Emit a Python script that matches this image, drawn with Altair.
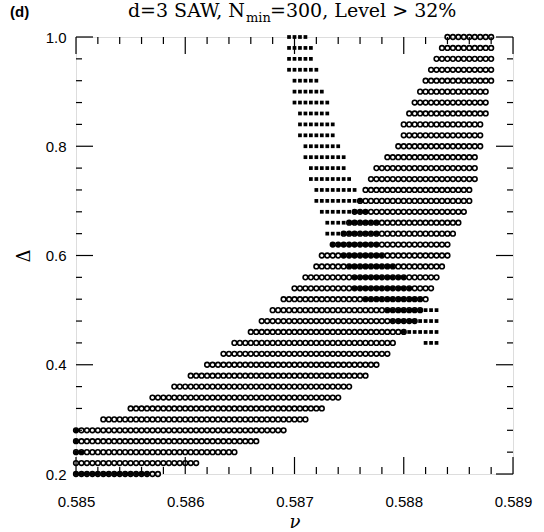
import altair as alt
import pandas as pd

# ---- data ----
NU0 = 0.585
NU_STEP = 0.00005  # grid spacing of the scanned nu values

delta_rows = [0.20, 0.22, 0.24, 0.26, 0.28, 0.30, 0.32, 0.34, 0.36, 0.38,
              0.40, 0.42, 0.44, 0.46, 0.48, 0.50, 0.52, 0.54, 0.56, 0.58,
              0.60, 0.62, 0.64, 0.66, 0.68, 0.70, 0.72, 0.74, 0.76, 0.78,
              0.80, 0.82, 0.84, 0.86, 0.88, 0.90, 0.92, 0.94, 0.96, 0.98, 1.00]

# open symbols: first and last nu of each row (grid column index)
circ_col_start = [0, 0, 0, 0, 0, 5, 10, 14, 18, 21,
                  24, 27, 29, 32, 34, 36, 38, 40, 42, 44,
                  45, 47, 49, 50, 51, 52, 53, 54, 55, 57,
                  59, 60, 60, 61, 62, 63, 64, 65, 66, 67, 68]
circ_col_end = [15, 22, 29, 33, 38, 42, 45, 48, 50, 53,
                55, 57, 58, 60, 62, 63, 64, 65, 66, 67,
                68, 68, 69, 70, 71, 72, 72, 73, 73, 73,
                74, 74, 74, 75, 75, 75, 76, 76, 76, 76, 76]

# filled symbols: row, first and last grid column
sq_delta = [0.20, 0.24, 0.26, 0.28,
            0.44, 0.46, 0.48, 0.50, 0.52, 0.54, 0.56, 0.58, 0.60, 0.62,
            0.64, 0.66, 0.68, 0.70, 0.72, 0.74, 0.76, 0.78, 0.80, 0.82,
            0.84, 0.86, 0.88, 0.90, 0.92, 0.94, 0.96, 0.98, 1.00]
sq_col_start = [0, 0, 0, 0,
                64, 60, 58, 57, 53, 51, 51, 50, 49, 47,
                46, 46, 45, 44, 44, 43, 43, 42, 42, 41,
                41, 41, 40, 40, 40, 39, 39, 39, 39]
sq_col_end = [13, 1, 0, 0,
              66, 66, 66, 66, 63, 61, 60, 58, 56, 55,
              55, 55, 53, 52, 51, 50, 49, 49, 48, 47,
              47, 46, 46, 45, 44, 44, 43, 43, 42]

x_major = [0.585, 0.586, 0.587, 0.588, 0.589]
x_minor = [0.5852, 0.5854, 0.5856, 0.5858, 0.5862, 0.5864, 0.5866, 0.5868,
           0.5872, 0.5874, 0.5876, 0.5878, 0.5882, 0.5884, 0.5886, 0.5888]
y_major = [0.2, 0.4, 0.6, 0.8, 1.0]
y_minor = [0.24, 0.28, 0.32, 0.36, 0.44, 0.48, 0.52, 0.56,
           0.64, 0.68, 0.72, 0.76, 0.84, 0.88, 0.92, 0.96]

# ---- tables ----
circ_rows = []
for d, a, b in zip(delta_rows, circ_col_start, circ_col_end):
    for k in range(a, b + 1):
        circ_rows.append({"nu": round(NU0 + k * NU_STEP, 6), "delta": d})
sq_rows = []
for d, a, b in zip(sq_delta, sq_col_start, sq_col_end):
    for k in range(a, b + 1):
        sq_rows.append({"nu": round(NU0 + k * NU_STEP, 6), "delta": d})

circ_df = pd.DataFrame(circ_rows)
sq_df = pd.DataFrame(sq_rows)

W, H = 437, 437
xs = alt.Scale(domain=[0.585, 0.589], nice=False, zero=False)
ys = alt.Scale(domain=[0.2, 1.0], nice=False, zero=False)

xaxis = alt.Axis(values=x_major, format=".3f", ticks=False, domain=False, grid=False,
                 labelFont="Liberation Sans", labelFontSize=15, labelColor="black",
                 labelPadding=20, title="ν", titleFont="DejaVu Serif",
                 titleFontStyle="italic", titleFontWeight="normal", titleFontSize=18,
                 titlePadding=4, titleColor="black", labelFlush=False)
yaxis = alt.Axis(values=y_major, format=".1f", ticks=False, domain=False, grid=False,
                 labelFont="Liberation Sans", labelFontSize=15, labelColor="black",
                 labelPadding=10, title="Δ", titleFont="DejaVu Serif",
                 titleFontWeight="normal", titleFontSize=18, titlePadding=12,
                 titleColor="black", labelFlush=False)

circles = alt.Chart(circ_df).mark_point(
    shape="circle", filled=False, color="black", size=22, strokeWidth=1.6, opacity=1
).encode(
    x=alt.X("nu:Q", scale=xs, axis=xaxis),
    y=alt.Y("delta:Q", scale=ys, axis=yaxis),
)
squares = alt.Chart(sq_df).mark_square(color="black", size=14, opacity=1).encode(
    x=alt.X("nu:Q", scale=xs, axis=xaxis),
    y=alt.Y("delta:Q", scale=ys, axis=yaxis),
)

def xticks(vals, length):
    df = pd.DataFrame({"nu": vals})
    base = alt.Chart(df).mark_rule(color="black", strokeWidth=1.2)
    bot = base.encode(x=alt.X("nu:Q", scale=xs, axis=xaxis), y=alt.value(H), y2=alt.value(H - length))
    top = base.encode(x=alt.X("nu:Q", scale=xs, axis=xaxis), y=alt.value(0), y2=alt.value(length))
    return bot + top

def yticks(vals, length):
    df = pd.DataFrame({"delta": vals})
    base = alt.Chart(df).mark_rule(color="black", strokeWidth=1.2)
    left = base.encode(y=alt.Y("delta:Q", scale=ys, axis=yaxis), x=alt.value(0), x2=alt.value(length))
    right = base.encode(y=alt.Y("delta:Q", scale=ys, axis=yaxis), x=alt.value(W), x2=alt.value(W - length))
    return left + right

def label(txt, x, y, size, font, weight="normal", align="left"):
    return alt.Chart(pd.DataFrame({"t": [txt]})).mark_text(
        text=txt, font=font, fontSize=size, fontWeight=weight, align=align,
        baseline="alphabetic", color="black"
    ).encode(x=alt.value(x), y=alt.value(y))

title = (
    label("(d)", -66, -20, 15, "Liberation Sans", weight="bold")
    + label("d=3 SAW, N", 169, -20, 19, "DejaVu Serif", align="right")
    + label("min", 170, -15, 13, "DejaVu Serif")
    + label("=300, Level > 32%", 194, -20, 19, "DejaVu Serif")
)

chart = alt.layer(
    circles, squares,
    xticks(x_major, 17), xticks(x_minor, 7),
    yticks(y_major, 17), yticks(y_minor, 6),
    title,
).properties(
    width=W, height=H,
    autosize=alt.AutoSizeParams(type="none"),
    padding={"left": 76, "top": 37, "right": 31, "bottom": 58},
).configure_view(stroke="black", strokeWidth=1.3).configure(background="white")

chart.save("out.html", embed_options={"renderer": "svg", "actions": False})
